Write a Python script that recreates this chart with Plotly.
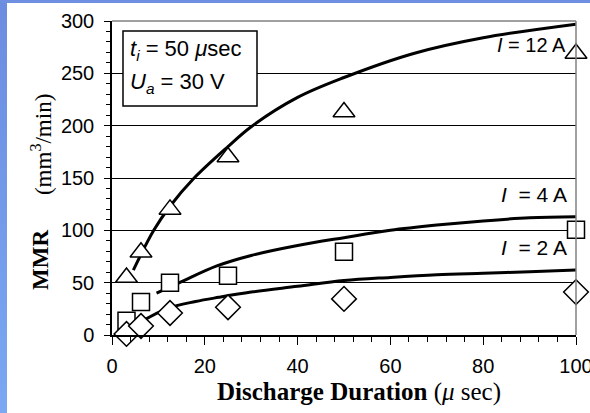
import plotly.graph_objects as go

# Measured data (markers)
duration = [3.125, 6.25, 12.5, 25, 50, 100]
mmr_12A = [55, 79, 120, 170, 213, 269]
mmr_4A = [13.5, 31.5, 50, 56.5, 79.5, 100.5]
mmr_2A = [1, 8.6, 21, 26.5, 34.5, 41]

# Fitted curves
fit12_x = [4.6, 9, 12.5, 17.5, 25, 30, 40, 50, 65, 80, 100]
fit12_y = [62, 100, 123, 149, 180, 199, 227, 246, 269, 284, 297]
fit4_x = [9.6, 15, 22.6, 30, 40, 50, 60, 70, 80, 90, 100]
fit4_y = [40, 51, 66, 76, 85.5, 93, 100, 105, 109, 112, 113]
fit2_x = [6.8, 12, 18, 23, 30, 40, 50, 60, 70, 80, 90, 100]
fit2_y = [14, 25.5, 32, 36, 41, 46.5, 52, 55, 57.5, 59, 60.5, 62]

x_ticks = [0, 20, 40, 60, 80, 100]
y_ticks = [0, 50, 100, 150, 200, 250, 300]

fig = go.Figure()

line_style = dict(color="black", width=3)
for fx, fy in [(fit12_x, fit12_y), (fit4_x, fit4_y), (fit2_x, fit2_y)]:
    fig.add_trace(go.Scatter(x=fx, y=fy, mode="lines", line=dict(**line_style, shape="spline"),
                             showlegend=False, hoverinfo="skip"))

marker_line = dict(color="black", width=1.5)
fig.add_trace(go.Scatter(x=duration, y=mmr_12A, mode="markers", showlegend=False, cliponaxis=False,
                         marker=dict(symbol="triangle-up", size=19, color="white", line=marker_line)))
fig.add_trace(go.Scatter(x=duration, y=mmr_4A, mode="markers", showlegend=False, cliponaxis=False,
                         marker=dict(symbol="square", size=17, color="white", line=marker_line)))
fig.add_trace(go.Scatter(x=duration, y=mmr_2A, mode="markers", showlegend=False, cliponaxis=False,
                         marker=dict(symbol="diamond", size=19, color="white", line=marker_line)))

tick_font = dict(family="Arial, Liberation Sans, sans-serif", size=20, color="black")

fig.update_xaxes(range=[0, 100], tickvals=x_ticks, ticks="outside", ticklen=8, tickwidth=1.2,
                 tickcolor="black", showline=True, linecolor="black", linewidth=1.5,
                 showgrid=False, zeroline=False, tickfont=tick_font, ticklabeloverflow="allow",
                 automargin=False, ticklabelstandoff=4,
                 minor=dict(dtick=4, ticks="outside", ticklen=5, tickcolor="black", tickwidth=1))
fig.update_yaxes(range=[0, 300], tickvals=y_ticks, ticks="outside", ticklen=6, tickwidth=1.2,
                 tickcolor="black", showline=True, linecolor="black", linewidth=1.5,
                 showgrid=True, gridcolor="black", gridwidth=1, zeroline=False, tickfont=tick_font,
                 ticklabeloverflow="allow", automargin=False, ticklabelstandoff=6,
                 minor=dict(dtick=10, ticks="outside", ticklen=4, tickcolor="black", tickwidth=1,
                            showgrid=False))

shapes = [
    # right and top grey border
    dict(type="line", xref="paper", yref="paper", x0=1, x1=1, y0=0, y1=1,
         line=dict(color="#808080", width=1.5)),
    dict(type="line", xref="paper", yref="paper", x0=0, x1=1, y0=1, y1=1,
         line=dict(color="#808080", width=1.5)),
    # info box
    dict(type="rect", xref="paper", yref="paper", x0=0.0237, x1=0.3125, y0=0.729, y1=0.968,
         line=dict(color="black", width=1.5), fillcolor="white", layer="above"),
]

text_font = dict(family="Arial, Liberation Sans, sans-serif", size=21, color="black")
box_font = dict(family="Arial, Liberation Sans, sans-serif", size=22, color="black")
serif = "Times New Roman, Liberation Serif, serif"
annotations = [
    dict(xref="paper", yref="paper", x=0.0345, y=0.908, xanchor="left", yanchor="middle",
         text="<i>t</i><sub><i>i</i></sub> = 50 <i>μ</i>sec", showarrow=False, font=box_font),
    dict(xref="paper", yref="paper", x=0.0345, y=0.803, xanchor="left", yanchor="middle",
         text="<i>U</i><sub><i>a</i></sub> = 30 V", showarrow=False, font=box_font),
    dict(x=98.3, y=277, xanchor="right", yanchor="middle", text="<i>I</i> = 12 A",
         showarrow=False, font=dict(text_font, size=20)),
    dict(x=98.5, y=134, xanchor="right", yanchor="middle", text="<i>I</i>  = 4 A",
         showarrow=False, font=text_font),
    dict(x=98.5, y=83.5, xanchor="right", yanchor="middle", text="<i>I</i>  = 2 A",
         showarrow=False, font=text_font),
    dict(xref="paper", yref="paper", x=0.532, y=-0.181, xanchor="center", yanchor="middle",
         text="<b>Discharge Duration</b> (<i>μ</i> sec)", showarrow=False,
         font=dict(family=serif, size=25, color="black")),
    dict(xref="paper", yref="paper", x=-0.153, y=0.239, xanchor="center", yanchor="middle",
         text="<b>MMR</b>", showarrow=False, textangle=-90,
         font=dict(family=serif, size=23, color="black")),
    dict(xref="paper", yref="paper", x=-0.153, y=0.605, xanchor="center", yanchor="middle",
         text="(mm<sup>3</sup>/min)", showarrow=False, textangle=-90,
         font=dict(family=serif, size=23, color="black")),
]

fig.update_layout(
    width=590, height=413,
    margin=dict(l=112, r=14, t=21, b=78),
    paper_bgcolor="rgba(0,0,0,0)", plot_bgcolor="white",
    shapes=shapes, annotations=annotations,
    showlegend=False,
)

post = (
    "document.documentElement.style.height='100%';"
    "document.body.style.margin='0';"
    "document.body.style.overflow='hidden';"
    "document.body.style.minHeight='100%';"
    "document.body.style.background="
    "'linear-gradient(#6f8fe0,#6f8fe0) 0 0 / 100% 3px no-repeat,"
    " linear-gradient(to bottom,#6c8ce0,#7aa8f2) 0 0 / 7px 100% no-repeat, white';"
)

fig.write_html("out.html", config={"displayModeBar": False}, post_script=post)
